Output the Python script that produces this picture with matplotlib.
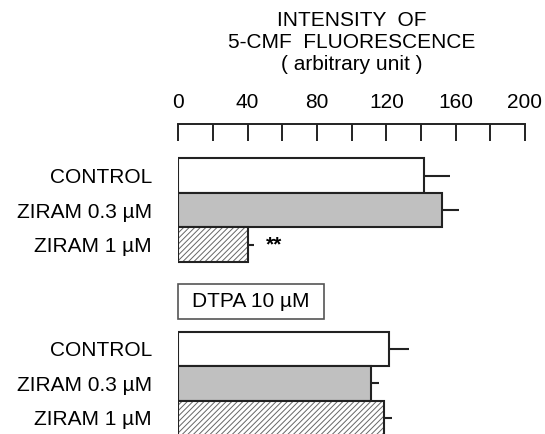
import numpy as np
import matplotlib
matplotlib.use("Agg")
import matplotlib.pyplot as plt
from matplotlib.patches import Rectangle

plt.rcParams['font.family'] = ['Liberation Sans', 'DejaVu Sans']
plt.rcParams['hatch.linewidth'] = 0.7

# data
labels = ["CONTROL", "ZIRAM 0.3 µM", "ZIRAM 1 µM"]
no_dtpa = [142.0, 152.2, 40.0]
no_dtpa_err = [15.0, 9.8, 3.6]
dtpa = [121.6, 110.9, 118.7]
dtpa_err = [11.5, 4.8, 4.6]
xticks = [0, 40, 80, 120, 160, 200]
xlabel = "INTENSITY  OF\n5-CMF  FLUORESCENCE\n( arbitrary unit )"
dtpa_label = "DTPA 10 µM"
signif = "**"

fs = 15
edge = '#222222'
fills = ['white', '#c0c0c0', 'white']
hatches = [None, None, '//////']

fig = plt.figure(figsize=(5.45, 4.34), dpi=100)
ax = fig.add_axes([178.3 / 545, 0, (525 - 178.3) / 545, 310 / 434])

pos_top = np.array([1.5, 2.5, 3.5])
pos_bot = np.array([6.52, 7.52, 8.52])

def draw_group(pos, vals, errs):
    for i in range(3):
        if hatches[i]:
            # hatch in grey, outline drawn separately in dark
            ax.barh(pos[i], vals[i], height=1.0, color='white',
                    edgecolor='#666666', hatch=hatches[i], linewidth=0)
            ax.barh(pos[i], vals[i], height=1.0, color='none',
                    edgecolor=edge, linewidth=1.5)
        else:
            ax.barh(pos[i], vals[i], height=1.0, color=fills[i],
                    edgecolor=edge, linewidth=1.5)
    ax.errorbar(vals, pos, xerr=[np.zeros(3), errs], fmt='none',
                ecolor=edge, elinewidth=1.5, capsize=0)

draw_group(pos_top, no_dtpa, no_dtpa_err)
draw_group(pos_bot, dtpa, dtpa_err)

# significance mark
ax.annotate(signif, xy=(no_dtpa[2] + no_dtpa_err[2], pos_top[2]),
            xytext=(9, 0), textcoords='offset points',
            ha='left', va='center', fontsize=fs, fontweight='bold')

# DTPA box
ax.add_patch(Rectangle((0, 4.64), 84, 1.02, facecolor='white',
                       edgecolor='#555555', linewidth=1.2, clip_on=False))
ax.text(42, 5.15, dtpa_label, ha='center', va='center', fontsize=fs)

ax.set_xlim(0, 200)
ax.set_ylim(8.986, 0)

ax.set_yticks(np.concatenate([pos_top, pos_bot]))
ax.set_yticklabels(labels + labels, fontsize=fs)
ax.tick_params(axis='y', length=0, pad=19)

ax.xaxis.tick_top()
ax.set_xticks(xticks)
ax.set_xticks(np.arange(20, 200, 40), minor=True)
ax.tick_params(axis='x', which='both', direction='in', length=12, width=1.4,
               color=edge, labelsize=fs, pad=8.5)
ax.tick_params(axis='x', which='minor', top=True, bottom=False)

for s in ['left', 'right', 'bottom']:
    ax.spines[s].set_visible(False)
ax.spines['top'].set_linewidth(1.4)
ax.spines['top'].set_color(edge)

fig.text(351.6 / 545, 1 - 42.5 / 434, xlabel, ha='center', va='center',
         fontsize=fs, linespacing=1.2)

fig.savefig("out.png", dpi=100)
